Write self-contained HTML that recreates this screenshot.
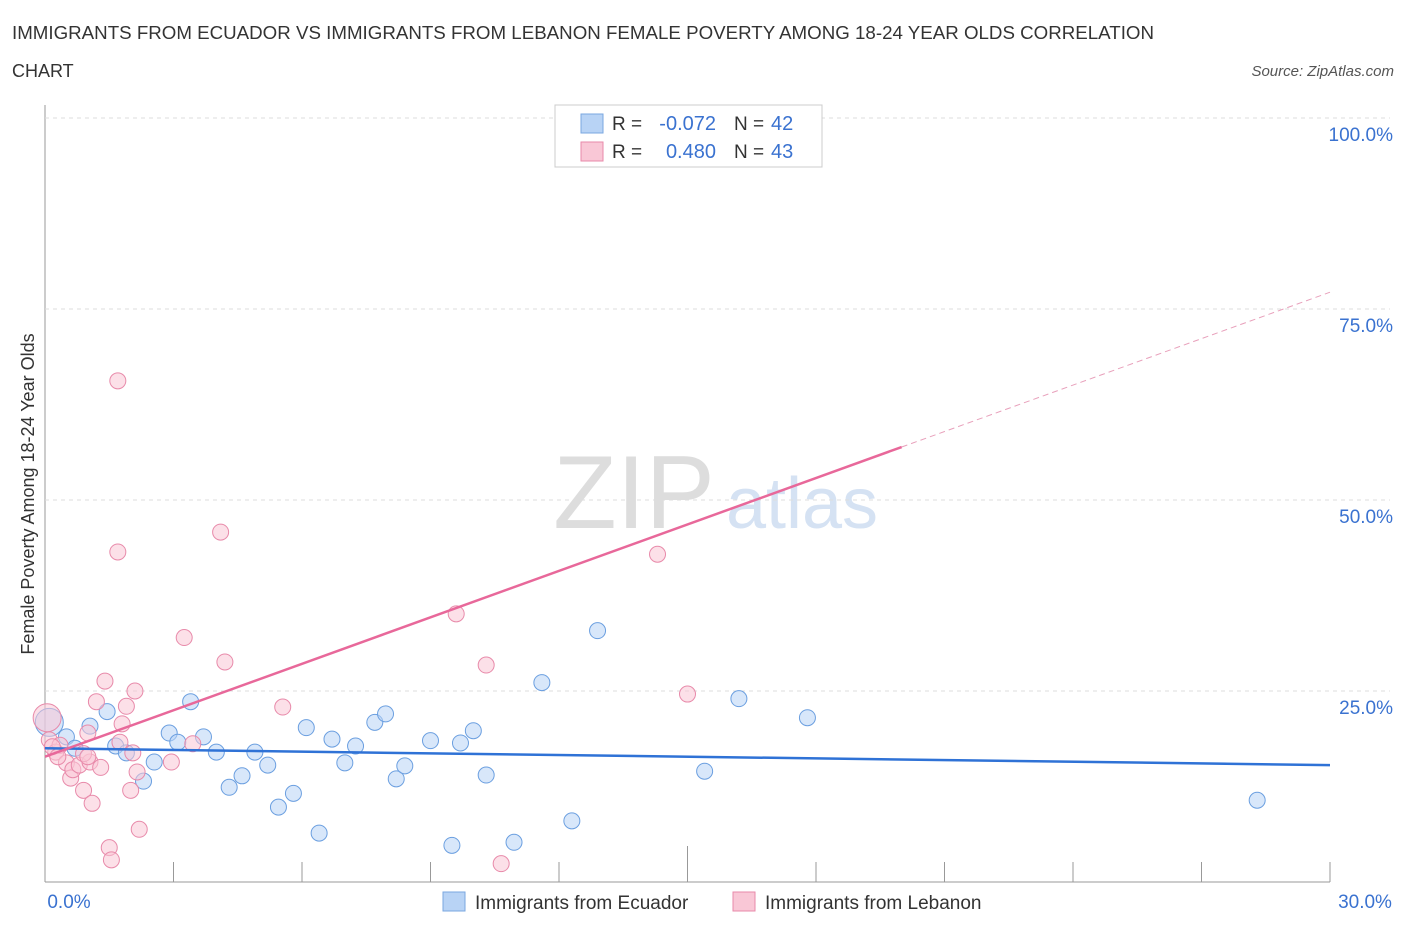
<!DOCTYPE html>
<html><head><meta charset="utf-8"><style>
body{margin:0;background:#fff;font-family:"Liberation Sans",sans-serif;}
svg text{font-family:"Liberation Sans",sans-serif;}
</style></head><body>
<svg id="c" width="1406" height="930" xmlns="http://www.w3.org/2000/svg">
<text x="12" y="39" font-size="18" fill="#333" textLength="1142" lengthAdjust="spacingAndGlyphs">IMMIGRANTS FROM ECUADOR VS IMMIGRANTS FROM LEBANON FEMALE POVERTY AMONG 18-24 YEAR OLDS CORRELATION</text>
<text x="12" y="77" font-size="18" fill="#333">CHART</text>
<text x="1394" y="76" font-size="15" fill="#555" font-style="italic" text-anchor="end">Source: ZipAtlas.com</text>
<text x="634" y="528" font-size="104" fill="#ddd" font-family="Liberation Serif" text-anchor="middle">ZIP</text>
<text x="802" y="528" font-size="72" fill="#d5e2f3" text-anchor="middle">atlas</text>
<text transform="translate(34,494) rotate(-90)" font-size="18" fill="#333" text-anchor="middle">Female Poverty Among 18-24 Year Olds</text>
<g id="grid"></g><g id="marks"></g>
<g>
<rect x="555" y="105" width="267" height="62" fill="#fff" stroke="#ccc"/>
<rect x="581" y="114" width="22" height="19" fill="#b8d3f5" stroke="#7aa7e0"/>
<rect x="581" y="142" width="22" height="19" fill="#f9c7d6" stroke="#e88aaa"/>
<text x="612" y="130" font-size="19" fill="#333">R =</text>
<text x="716" y="130" font-size="20" fill="#3a72d0" text-anchor="end">-0.072</text>
<text x="734" y="130" font-size="19" fill="#333">N =</text>
<text x="771" y="130" font-size="20" fill="#3a72d0">42</text>
<text x="612" y="158" font-size="19" fill="#333">R =</text>
<text x="716" y="158" font-size="20" fill="#3a72d0" text-anchor="end">0.480</text>
<text x="734" y="158" font-size="19" fill="#333">N =</text>
<text x="771" y="158" font-size="20" fill="#3a72d0">43</text>
</g>
<g>
<rect x="443" y="892" width="22" height="19" fill="#b8d3f5" stroke="#7aa7e0"/>
<text x="475" y="909" font-size="19" fill="#333">Immigrants from Ecuador</text>
<rect x="733" y="892" width="22" height="19" fill="#f9c7d6" stroke="#e88aaa"/>
<text x="765" y="909" font-size="19" fill="#333">Immigrants from Lebanon</text>
</g>
</svg>
<script>
const xTicks=[0,3,6,9,12,15,18,21,24,27,30];
const yTicks=[25,50,75,100];
const blueX=[0.1,0.5,1.05,1.45,1.65,1.9,2.3,2.55,2.9,3.1,3.4,3.7,4.0,4.3,4.6,4.9,5.2,5.45,5.8,6.1,6.4,6.7,7.0,7.25,7.7,7.95,8.2,8.4,9.0,9.5,9.7,10.0,10.3,10.95,11.6,12.3,12.9,15.4,16.2,17.8,28.3,0.7];
const blueY=[20.9,19.0,20.4,22.3,17.8,16.9,13.2,15.7,19.5,18.3,23.6,19.0,17.0,12.4,13.9,17.0,15.3,9.8,11.6,20.2,6.4,18.7,15.6,17.8,20.9,22.0,13.5,15.2,18.5,4.8,18.2,19.8,14.0,5.2,26.1,8.0,32.9,14.5,24.0,21.5,10.7,17.5];
const pinkX=[0.05,0.1,0.25,0.35,0.5,0.6,0.65,0.8,0.9,1.0,1.05,1.1,1.2,1.3,1.4,1.5,1.55,1.7,1.7,1.8,1.9,2.0,2.05,2.1,2.15,2.2,2.95,3.25,3.45,4.1,4.2,5.55,9.6,10.3,10.65,14.0,14.3,15.0,0.17,0.3,0.9,1.75,1.0];
const pinkY=[21.5,18.6,17.0,17.9,15.6,13.6,14.7,15.3,12.0,19.5,15.7,10.3,23.6,15.0,26.3,4.5,2.9,65.6,43.2,20.7,23.0,12.0,16.9,25.0,14.4,6.9,15.7,32.0,18.1,45.8,28.8,22.9,35.1,28.4,2.4,100,42.9,24.6,17.7,16.4,16.8,18.3,16.4];
const blueLine=[17.5,15.3];
const pinkLine=[16.4,77.2];
const X0=45,X1=1330,Y0=882,Y1=118;
const xs=v=>X0+v/30*(X1-X0), ys=v=>Y0-v/100*(Y0-Y1);
const NS="http://www.w3.org/2000/svg";
const grid=document.getElementById('grid'),marks=document.getElementById('marks');
function mk(tag,attrs,parent){const e=document.createElementNS(NS,tag);for(const k in attrs)e.setAttribute(k,attrs[k]);parent.appendChild(e);return e;}
let ax=mk('line',{x1:X0,x2:X0,y1:105,y2:Y0,stroke:'#999'},grid);


let bx=mk('line',{x1:X0,x2:X1,y1:Y0,y2:Y0,stroke:'#999'},grid);


yTicks.forEach(t=>{
 const g=mk('line',{x1:X0,x2:X1+60,y1:ys(t),y2:ys(t),stroke:'#ddd','stroke-dasharray':'4,4'},grid);
 
 
 const l=mk('text',{x:1393,y:ys(t)+23,'font-size':19,fill:'#3a72d0','text-anchor':'end'},grid);
 l.textContent=t.toFixed(1)+'%';
 
 
});
xTicks.forEach((t,i)=>{
 if(i>0){const k=mk('line',{x1:xs(t),x2:xs(t),y1:Y0,y2:Y0-(i==5?36:20),stroke:'#999'},grid);
 
 }
});
[[0,'0.0%',69],[30,'30.0%',1365]].forEach(a=>{
 const l=mk('text',{x:a[2],y:908,'font-size':19,fill:'#3a72d0','text-anchor':'middle'},grid);
 l.textContent=a[1];
 
 
});
function dots(X,Y,fill,stroke,name){X.forEach((x,i)=>{
 const c=mk('circle',{cx:xs(x),cy:ys(Y[i]),r:i==0?14:8,fill:fill,stroke:stroke,'stroke-width':1,'fill-opacity':0.55},marks);
 
 
});}
dots(blueX,blueY,'#b8d3f5','#6b9fe0','ecuador-point');
dots(pinkX,pinkY,'#f9c7d6','#e88aaa','lebanon-point');
const bl=mk('line',{x1:xs(0),y1:ys(blueLine[0]),x2:xs(30),y2:ys(blueLine[1]),stroke:'#2f72d6','stroke-width':2.5},marks);


const pm=pinkLine[0]+(pinkLine[1]-pinkLine[0])*20/30;
const pl=mk('line',{x1:xs(0),y1:ys(pinkLine[0]),x2:xs(20),y2:ys(pm),stroke:'#e8689a','stroke-width':2.5},marks);


const pd=mk('line',{x1:xs(20),y1:ys(pm),x2:xs(30),y2:ys(pinkLine[1]),stroke:'#e8a0bb','stroke-width':1,'stroke-dasharray':'6,4'},marks);


</script>
</body></html>
